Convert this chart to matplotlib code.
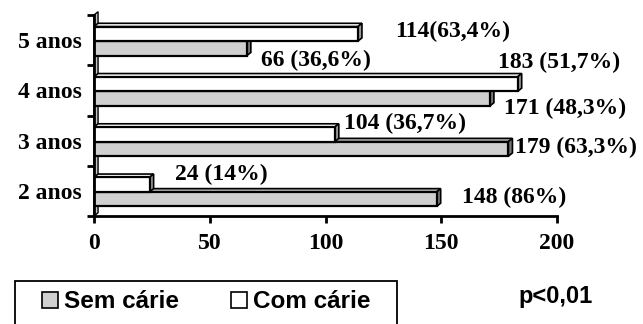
import numpy as np
import matplotlib
matplotlib.use("Agg")
import matplotlib.pyplot as plt
from matplotlib.patches import Polygon, Rectangle

# data
categories = ["2 anos", "3 anos", "4 anos", "5 anos"]
sem_carie = [148, 179, 171, 66]
com_carie = [24, 104, 183, 114]
sem_labels = ["148 (86%)", "179 (63,3%)", "171 (48,3%)", "66 (36,6%)"]
com_labels = ["24 (14%)", "104 (36,7%)", "183 (51,7%)", "114(63,4%)"]
legend_names = ["Sem cárie", "Com cárie"]
p_text = "p<0,01"

# label offsets from the bar end (x in data units, y in category units)
sem_off = [(11, -0.14), (3, -0.13), (6, -0.35), (6, -0.40)]
com_off = [(11, 0.32), (4, 0.35), (-8.5, 0.56), (16, 0.18)]

gray = "#d0d0d0"
white = "#ffffff"
h = 0.29          # bar thickness
split = -0.02     # boundary between the two bars of a group
ddx, ddy = 1.75, 0.065   # fake 3d depth

fig = plt.figure(figsize=(6.43, 3.24), dpi=100)
ax = fig.add_axes([94 / 643, 108 / 324, 463 / 643, 201 / 324])
ax.set_xlim(0, 200)
ax.set_ylim(-0.5, 3.5)

y = np.arange(len(categories))


def bar3d(vals, y0, face, side, top):
    for v, b in zip(vals, y0):
        # top face
        ax.add_patch(Polygon([(0, b + h), (v, b + h), (v + ddx, b + h + ddy),
                              (ddx, b + h + ddy)], closed=True, fc=top,
                             ec="black", lw=1.2, zorder=3))
        # side face
        ax.add_patch(Polygon([(v, b), (v + ddx, b + ddy), (v + ddx, b + h + ddy),
                              (v, b + h)], closed=True, fc=side, ec="black",
                             lw=1.2, zorder=3))
    ax.barh(y0, vals, height=h, align="edge", color=face, edgecolor="black",
            linewidth=1.6, zorder=4)


# left wall
ax.add_patch(Polygon([(0, -0.5), (ddx, -0.5 + ddy), (ddx, 3.5 + ddy), (0, 3.5)],
                     closed=True, fc="#c8c8c8", ec="black", lw=1.0,
                     clip_on=False, zorder=2))

bar3d(sem_carie, y + split - h, gray, "#7a7a7a", "#b4b4b4")
bar3d(com_carie, y + split, white, "#9a9a9a", "#ffffff")

txt = dict(family="Liberation Serif", fontweight="bold", fontsize=17,
           va="center", ha="left", zorder=6)
for i in range(len(categories)):
    ax.text(sem_carie[i] + sem_off[i][0], y[i] + sem_off[i][1], sem_labels[i], **txt)
    ax.text(com_carie[i] + com_off[i][0], y[i] + com_off[i][1], com_labels[i], **txt)

for s in ["top", "right"]:
    ax.spines[s].set_visible(False)
for s in ["left", "bottom"]:
    ax.spines[s].set_linewidth(2)
    ax.spines[s].set_zorder(5)

ax.set_yticks(np.arange(-0.5, 4, 1))
ax.set_yticklabels([])
ax.set_yticks(y, categories, minor=True)
ax.tick_params(axis="y", which="major", direction="out", length=5, width=2)
ax.tick_params(axis="y", which="minor", length=0, pad=9)
ax.set_xticks([0, 50, 100, 150, 200])
ax.tick_params(axis="x", direction="out", length=5, width=2, pad=7)
for lab in ax.get_xticklabels() + ax.get_yticklabels(minor=True):
    lab.set_family("Liberation Serif")
    lab.set_fontweight("bold")
    lab.set_fontsize(17)

# legend
handles = [Rectangle((0, 0), 1, 1, fc=gray, ec="black", lw=1.2),
           Rectangle((0, 0), 1, 1, fc=white, ec="black", lw=1.2)]
fig.legend(handles, legend_names, loc="center left",
           bbox_to_anchor=(42 / 643, 1 - 302 / 324), ncol=2, frameon=False,
           prop=dict(family="Liberation Sans", weight="bold", size=17.5),
           handlelength=0.65, handleheight=0.65, handletextpad=0.25,
           columnspacing=2.15, borderpad=0, borderaxespad=0)
fig.patches.append(Rectangle((15 / 643, -0.1), 382 / 643, 0.1 + 43 / 324,
                             transform=fig.transFigure, fill=False,
                             ec="black", lw=1.3))
fig.text(518 / 643, 1 - 296 / 324, p_text, family="Liberation Sans",
         fontweight="bold", fontsize=17, va="center", ha="left")

fig.savefig("out.png", dpi=100)
